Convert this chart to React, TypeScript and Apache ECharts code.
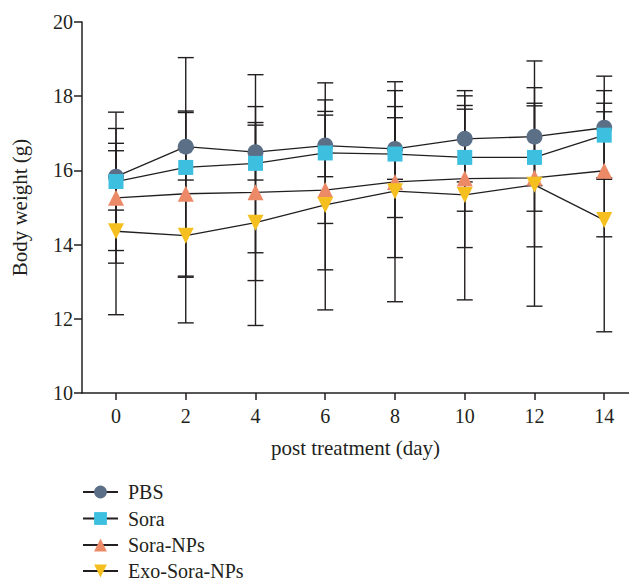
import React, { useEffect, useRef } from "react";
import * as echarts from "echarts";

const days = [0, 2, 4, 6, 8, 10, 12, 14];
const xTicks = [0, 2, 4, 6, 8, 10, 12, 14];
const seriesNames = ["PBS", "Sora", "Sora-NPs", "Exo-Sora-NPs"];

const pbsMean = [15.83, 16.64, 16.49, 16.67, 16.58, 16.85, 16.91, 17.15];
const pbsUpper = [17.13, 17.56, 17.22, 17.49, 17.42, 18.01, 18.23, 18.54];
const pbsLower = [14.93, 15.74, 15.74, 15.83, 15.76, 15.69, 15.59, 15.76];

const soraMean = [15.7, 16.08, 16.19, 16.47, 16.44, 16.35, 16.35, 16.95];
const soraUpper = [17.57, 19.04, 18.58, 18.36, 18.15, 17.75, 17.81, 18.15];
const soraLower = [13.84, 13.12, 13.78, 14.57, 14.73, 14.9, 14.9, 15.8];

const npsMean = [15.26, 15.37, 15.41, 15.47, 15.69, 15.78, 15.8, 15.99];
const npsUpper = [16.73, 17.6, 17.72, 17.59, 17.72, 17.65, 17.74, 17.81];
const npsLower = [13.5, 13.15, 13.03, 13.32, 13.65, 13.92, 13.94, 14.21];

const exoMean = [14.36, 14.24, 14.59, 15.07, 15.44, 15.34, 15.61, 14.66];
const exoUpper = [16.53, 16.59, 17.29, 17.9, 18.39, 18.15, 18.95, 17.58];
const exoLower = [12.11, 11.89, 11.82, 12.24, 12.46, 12.51, 12.34, 11.65];

const colors = ["#5b6f87", "#3dbfdf", "#ec8a68", "#f5c01f"];
const symbols = ["circle", "rect", "triangle", "triangle"];
const symbolSizes = [16, 15, 16, 16];
const rotates = [0, 0, 0, 180];
const legendTops = [482, 508.5, 535, 561];

const means = [pbsMean, soraMean, npsMean, exoMean];
const uppers = [pbsUpper, soraUpper, npsUpper, exoUpper];
const lowers = [pbsLower, soraLower, npsLower, exoLower];

const INK = "#231f20";
const FONT = "Liberation Serif";

export default function App() {
  const ref = useRef<HTMLDivElement>(null);
  useEffect(() => {
    document.body.style.margin = "0";
    if (!ref.current) return;
    const chart = echarts.init(ref.current, undefined, { renderer: "svg" });

    const errorSeries = seriesNames.map((name, si) => ({
      type: "custom",
      name: name + "-err",
      z: 1,
      silent: true,
      data: days.map((d, i) => [d, lowers[si][i], uppers[si][i]]),
      renderItem: (params: any, api: any) => {
        const x = api.value(0);
        const lo = api.coord([x, api.value(1)]);
        const hi = api.coord([x, api.value(2)]);
        const hw = 8;
        const st = { stroke: INK, lineWidth: 1.4 };
        return {
          type: "group",
          children: [
            { type: "line", shape: { x1: lo[0], y1: lo[1], x2: hi[0], y2: hi[1] }, style: st },
            { type: "line", shape: { x1: lo[0] - hw, y1: lo[1], x2: lo[0] + hw, y2: lo[1] }, style: st },
            { type: "line", shape: { x1: hi[0] - hw, y1: hi[1], x2: hi[0] + hw, y2: hi[1] }, style: st },
          ],
        };
      },
    }));

    const lineSeries = seriesNames.map((name, si) => ({
      type: "line",
      name,
      z: 3,
      data: days.map((d, i) => [d, means[si][i]]),
      symbol: symbols[si],
      symbolSize: symbolSizes[si],
      symbolRotate: rotates[si],
      showAllSymbol: true,
      lineStyle: { color: INK, width: 1.3 },
      itemStyle: { color: colors[si], opacity: 1 },
      emphasis: { disabled: true },
    }));

    const legends = seriesNames.map((name, i) => ({
      data: [name],
      orient: "vertical",
      left: 82,
      top: legendTops[i],
      padding: 0,
      itemWidth: 35,
      itemHeight: 16,
      textStyle: { fontFamily: FONT, fontSize: 20, color: INK, padding: [0, 0, 0, 5] },
      selectedMode: false,
    }));

    chart.setOption({
      animation: false,
      textStyle: { fontFamily: FONT },
      grid: { left: 82, right: 0, top: 22, bottom: 188, containLabel: false },
      legend: legends,
      xAxis: {
        type: "value",
        min: -0.975,
        max: 14.71,
        name: "post treatment (day)",
        nameLocation: "middle",
        nameGap: 44,
        nameTextStyle: { fontFamily: FONT, fontSize: 21, color: INK },
        axisLine: { show: true, onZero: false, lineStyle: { color: INK, width: 1.5 } },
        axisTick: { show: true, customValues: xTicks, length: 7, lineStyle: { color: INK, width: 1.5 } },
        axisLabel: { customValues: xTicks, fontFamily: FONT, fontSize: 20, color: INK, margin: 13 },
        splitLine: { show: false },
      },
      yAxis: {
        type: "value",
        min: 10,
        max: 20,
        interval: 2,
        name: "Body weight (g)",
        nameLocation: "middle",
        nameGap: 52,
        nameTextStyle: { fontFamily: FONT, fontSize: 21, color: INK },
        axisLine: { show: true, onZero: false, lineStyle: { color: INK, width: 1.5 } },
        axisTick: { show: true, length: 8, lineStyle: { color: INK, width: 1.5 } },
        axisLabel: { fontFamily: FONT, fontSize: 20, color: INK, margin: 9 },
        splitLine: { show: false },
      },
      series: [...errorSeries, ...lineSeries],
    });
    return () => chart.dispose();
  }, []);
  return <div ref={ref} style={{ width: 629, height: 581 }} />;
}
